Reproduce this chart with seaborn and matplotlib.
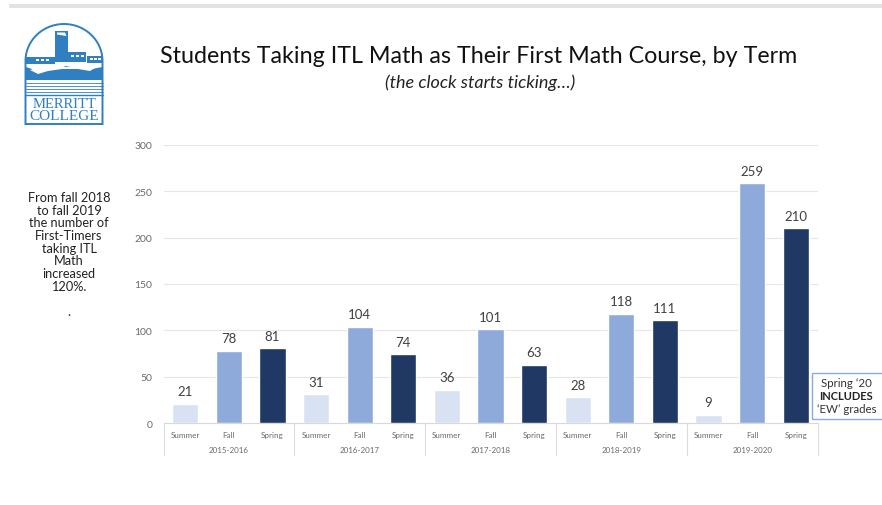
import matplotlib
matplotlib.use("Agg")
import matplotlib.pyplot as plt
import numpy as np
import pandas as pd
import seaborn as sns
from matplotlib.patches import Rectangle, Polygon

years = ["2015-2016", "2016-2017", "2017-2018", "2018-2019", "2019-2020"]
terms = ["Summer", "Fall", "Spring"]
students = [21, 78, 81, 31, 104, 74, 36, 101, 63, 28, 118, 111, 9, 259, 210]
term_colors = {"Summer": "#d9e2f3", "Fall": "#8eaadb", "Spring": "#1f3864"}
y_ticks = [0, 50, 100, 150, 200, 250, 300]

W, H = 882, 506
sns.set_theme(style="white")
plt.rcParams["font.family"] = ["Lato", "DejaVu Sans"]

df = pd.DataFrame({
    "slot": [f"{y} {t}" for y in years for t in terms],
    "term": [t for _ in years for t in terms],
    "students": students,
})

fig = plt.figure(figsize=(W / 100, H / 100), dpi=100, facecolor="white")
ax = fig.add_axes([163.5 / W, 1 - 424 / H, 654 / W, 278 / H])

sns.barplot(data=df, x="slot", y="students", hue="term", palette=term_colors,
            dodge=False, width=0.6, saturation=1, legend=False, ax=ax, zorder=3)

ax.set_xlim(-0.5, 14.5)
ax.set_ylim(0, 300)
ax.set_yticks(y_ticks)
ax.set_xlabel("")
ax.set_ylabel("")
ax.tick_params(axis="y", length=0, labelsize=7.5, labelcolor="#6a6a6a", pad=8)
ax.set_xticks(range(15))
ax.set_xticklabels(terms * 5, fontsize=5.8, color="#6a6a6a")
ax.tick_params(axis="x", length=0, pad=6)
ax.grid(axis="y", color="#e6e6e6", lw=0.8, zorder=0)
ax.grid(axis="x", visible=False)
for side in ["top", "right", "left"]:
    ax.spines[side].set_visible(False)
ax.spines["bottom"].set_color("#d9d9d9")
ax.spines["bottom"].set_linewidth(0.8)

# Value labels sit just above each bar
for i, v in enumerate(students):
    ax.annotate(str(v), (i, v), xytext=(0, 4.5), textcoords="offset points",
                ha="center", va="bottom", fontsize=9.5, color="#404040", zorder=4)

# Academic-year group labels and separators below the term labels
trans = ax.get_xaxis_transform()
for k, year in enumerate(years):
    ax.text(3 * k + 1, -0.097, year, transform=trans, ha="center", va="center",
            fontsize=5.8, color="#6a6a6a")
for k in range(6):
    ax.plot([3 * k - 0.5] * 2, [0, -0.115], transform=trans, color="#dcdcdc",
            lw=0.8, clip_on=False)

# Overlay in pixel coordinates for the page furniture
ov = fig.add_axes([0, 0, 1, 1], facecolor="none")
ov.set_xlim(0, W)
ov.set_ylim(H, 0)
ov.axis("off")

ov.add_patch(Rectangle((9, 5), W - 9, 4, color="#e2e2e2", lw=0))

ov.text(479, 56, "Students Taking ITL Math as Their First Math Course, by Term",
        ha="center", va="center", fontsize=16.75, color="#111111")
ov.text(480, 83, "(the clock starts ticking…)", ha="center", va="center",
        fontsize=13, style="italic", color="#222222")

side_note = ("From fall 2018\nto fall 2019\nthe number of\nFirst-Timers\ntaking ITL\n"
             "Math\nincreased\n120%.\n\n.")
ov.text(69, 255, side_note, ha="center", va="center", fontsize=9.2,
        color="#222222", linespacing=1.07)

# Callout box beside the last bar
ov.add_patch(Rectangle((812, 374), 75, 46, fc="white", ec="#8eaadb", lw=1, zorder=5))
ov.text(846.5, 384, "Spring ‘20", ha="center", va="center", fontsize=8.3, color="#333333", zorder=6)
ov.text(846.5, 397, "INCLUDES", ha="center", va="center", fontsize=8.0, color="#222222",
        fontweight="bold", zorder=6)
ov.text(846.5, 410, "‘EW’ grades", ha="center", va="center", fontsize=8.3, color="#333333", zorder=6)

# College emblem
blue = "#2f7fc1"
arch_t = np.linspace(np.pi, 0, 60)
arch = np.column_stack([64 + 38.5 * np.cos(arch_t), 62 - 37 * np.sin(arch_t)])
outline = np.vstack([[25.5, 125], arch, [102.5, 125], [25.5, 125]])
ov.add_patch(Polygon(outline, closed=True, fc="white", ec=blue, lw=1.4))
ov.add_patch(Rectangle((55, 32), 13, 31, fc=blue, lw=0))
ov.add_patch(Polygon([(57, 33.5), (65, 33.5), (66.5, 37), (57, 35.5)], fc="white", lw=0))
ov.add_patch(Rectangle((68, 53), 18, 10, fc=blue, lw=0))
ov.add_patch(Rectangle((87, 57), 16, 7, fc=blue, lw=0))
ov.add_patch(Rectangle((26, 58), 29, 7, fc=blue, lw=0))
for wx in (36, 41, 46, 71, 76, 81, 90, 94, 98):
    wy = 60 if wx < 55 else (56 if wx < 86 else 59)
    ov.add_patch(Rectangle((wx, wy), 2.5, 2, fc="white", lw=0))
ov.add_patch(Polygon([(26, 68), (38, 72), (50, 69), (65, 67), (80, 68), (92, 70),
                      (102.5, 68), (102.5, 81), (26, 81)], fc=blue, lw=0))
ov.add_patch(Polygon([(30, 71), (40, 68), (50, 69), (58, 65), (66, 68), (76, 66),
                      (86, 68), (98, 67), (90, 72), (78, 70), (62, 70), (48, 72),
                      (38, 75)], fc="white", lw=0))
for ly in (84, 87, 90, 93):
    ov.plot([26, 102.5], [ly, ly], color=blue, lw=0.6)
ov.plot([25.5, 102.5], [96, 96], color=blue, lw=1)
ov.text(64.5, 104, "MERRITT", ha="center", va="center", fontsize=10.5, color=blue,
        family="Liberation Serif")
ov.text(64, 116.5, "COLLEGE", ha="center", va="center", fontsize=11, color=blue,
        family="Liberation Serif")

fig.savefig("out.png", dpi=100, facecolor="white")
